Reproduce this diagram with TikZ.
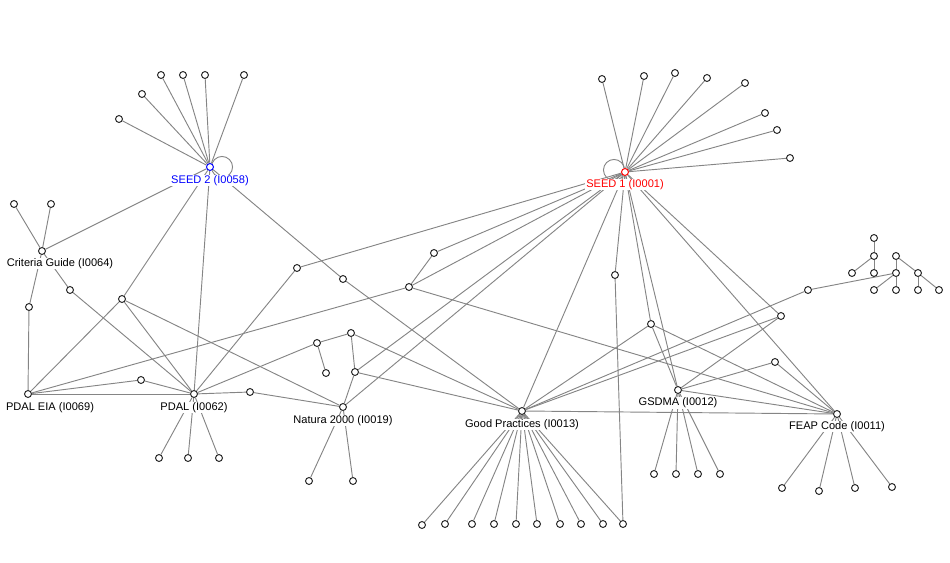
\documentclass[tikz,border=0pt]{standalone}
\usepackage{fontspec}
\setmainfont{Liberation Sans}
\usetikzlibrary{backgrounds}

\begin{document}
\begin{tikzpicture}[x=0.75pt, y=-0.75pt,
    dot/.style={circle, draw=black!85, fill=white, line width=0.75pt, inner sep=0pt, minimum size=5.2pt},
    link/.style={draw=black!48, line width=0.7pt},
    tag/.style={fill=white, inner sep=0.6pt, font=\fontsize{8.3}{9}\selectfont}]

    \useasboundingbox (0,0) rectangle (950,563);

    % Labels of the named documents
    \node[tag, text=blue] (Seed2Tag) at (210,180.5) {SEED 2 (I0058)};
    \node[tag, text=red] (Seed1Tag) at (625,184.5) {SEED 1 (I0001)};
    \node[tag] (CriteriaGuideTag) at (60,263.5) {Criteria Guide (I0064)};
    \node[tag] (PdalEiaTag) at (50,407.5) {PDAL EIA (I0069)};
    \node[tag] (PdalTag) at (194,407.5) {PDAL (I0062)};
    \node[tag] (NaturaTag) at (343,420.5) {Natura 2000 (I0019)};
    \node[tag] (GoodPracticesTag) at (522,424.5) {Good Practices (I0013)};
    \node[tag] (GsdmaTag) at (678,403) {GSDMA (I0012)};
    \node[tag] (FeapTag) at (837,426.5) {FEAP Code (I0011)};

    % Named documents
    \node[dot, draw=blue] (Seed2) at (210,167) {};
    \node[dot, draw=red] (Seed1) at (625,172) {};
    \node[dot] (CriteriaGuide) at (42,251) {};
    \node[dot] (PdalEia) at (28,394) {};
    \node[dot] (Pdal) at (194,394) {};
    \node[dot] (Natura) at (343,407) {};
    \node[dot] (GoodPractices) at (522,411) {};
    \node[dot] (Gsdma) at (678,390) {};
    \node[dot] (Feap) at (837,414) {};

    % Unnamed documents in between
    \foreach \x/\y [count=\i] in {29/307, 70/290, 122/299, 141/380, 250/392, 297/268,
        343/279, 409/287, 434/253, 317/343, 326/373, 351/333, 355/372, 615/275,
        651/324, 781/316, 775/362, 808/290}
        \node[dot] (N\i) at (\x,\y) {};

    % Small tree on the right
    \foreach \x/\y [count=\i] in {874/238, 874/256, 852/273, 874/273, 896/256, 896/273,
        918/273, 874/290, 896/290, 918/290, 939/290}
        \node[dot] (T\i) at (\x,\y) {};

    % Leaves
    \foreach \x/\y [count=\i] in {161/75, 183/75, 205/75, 244/75, 142/94, 119/119}
        \node[dot] (Seed2L\i) at (\x,\y) {};
    \foreach \x/\y [count=\i] in {602/79, 644/76, 675/73, 707/78, 745/83, 765/113, 777/130, 790/158}
        \node[dot] (Seed1L\i) at (\x,\y) {};
    \foreach \x/\y [count=\i] in {14/204, 51/204}
        \node[dot] (CriteriaGuideL\i) at (\x,\y) {};
    \foreach \x/\y [count=\i] in {159/458, 188/458, 219/458}
        \node[dot] (PdalL\i) at (\x,\y) {};
    \foreach \x/\y [count=\i] in {309/481, 353/481}
        \node[dot] (NaturaL\i) at (\x,\y) {};
    \foreach \x/\y [count=\i] in {422/525, 445/524, 472/524, 494/524, 516/524, 537/524,
        560/524, 581/524, 603/524, 623/524}
        \node[dot] (GoodPracticesL\i) at (\x,\y) {};
    \foreach \x/\y [count=\i] in {654/474, 676/474, 698/474, 720/474}
        \node[dot] (GsdmaL\i) at (\x,\y) {};
    \foreach \x/\y [count=\i] in {782/488, 819/491, 855/488, 892/487}
        \node[dot] (FeapL\i) at (\x,\y) {};

    % Links behind everything
    \begin{scope}[on background layer]
        \foreach \i in {1,...,6} \draw[link] (Seed2) -- (Seed2L\i);
        \foreach \i in {1,...,8} \draw[link] (Seed1) -- (Seed1L\i);
        \foreach \i in {1,2} \draw[link] (CriteriaGuide) -- (CriteriaGuideL\i);
        \foreach \i in {1,2,3} \draw[link] (Pdal) -- (PdalL\i);
        \foreach \i in {1,2} \draw[link] (Natura) -- (NaturaL\i);
        \foreach \i in {1,...,10} \draw[link] (GoodPractices) -- (GoodPracticesL\i);
        \foreach \i in {1,...,4} \draw[link] (Gsdma) -- (GsdmaL\i);
        \foreach \i in {1,...,4} \draw[link] (Feap) -- (FeapL\i);

        \foreach \a/\b in {Seed2/CriteriaGuide, Seed2/N3, Seed2/Pdal, Seed2/N7,
            CriteriaGuide/N1, N1/PdalEia, CriteriaGuide/N2, N2/Pdal,
            N3/PdalEia, N3/Pdal, N3/Natura,
            PdalEia/N4, N4/Pdal, PdalEia/Pdal, PdalEia/N8,
            Pdal/N5, N5/Natura, Pdal/N6, N6/Seed1, Pdal/N10,
            N7/GoodPractices, N8/N9, N8/Seed1, N9/Seed1, N8/Feap,
            N10/N11, N10/N12, N12/N13, N12/GoodPractices, N13/GoodPractices,
            N13/Seed1, N13/Natura, Natura/Seed1, GoodPractices/Seed1,
            Seed1/N14, N14/GoodPracticesL10,
            Seed1/N15, N15/Gsdma, N15/GoodPractices, N15/Feap,
            Seed1/Gsdma, Seed1/N16, N16/GoodPractices, N16/Gsdma,
            Gsdma/N17, N17/Feap, Gsdma/Feap, GoodPractices/Feap, Seed1/Feap,
            GoodPractices/N18, N18/T6,
            T1/T2, T2/T3, T2/T4, T5/T6, T5/T7, T6/T8, T6/T9, T7/T10, T7/T11}
            \draw[link] (\a) -- (\b);

        % Self references of the seeds
        \draw[link] (Seed2.center) ++(12,0) circle[radius=7.9pt];
        \draw[link] (Seed1.center) ++(-11,-2) circle[radius=7.9pt];
    \end{scope}
\end{tikzpicture}
\end{document}
